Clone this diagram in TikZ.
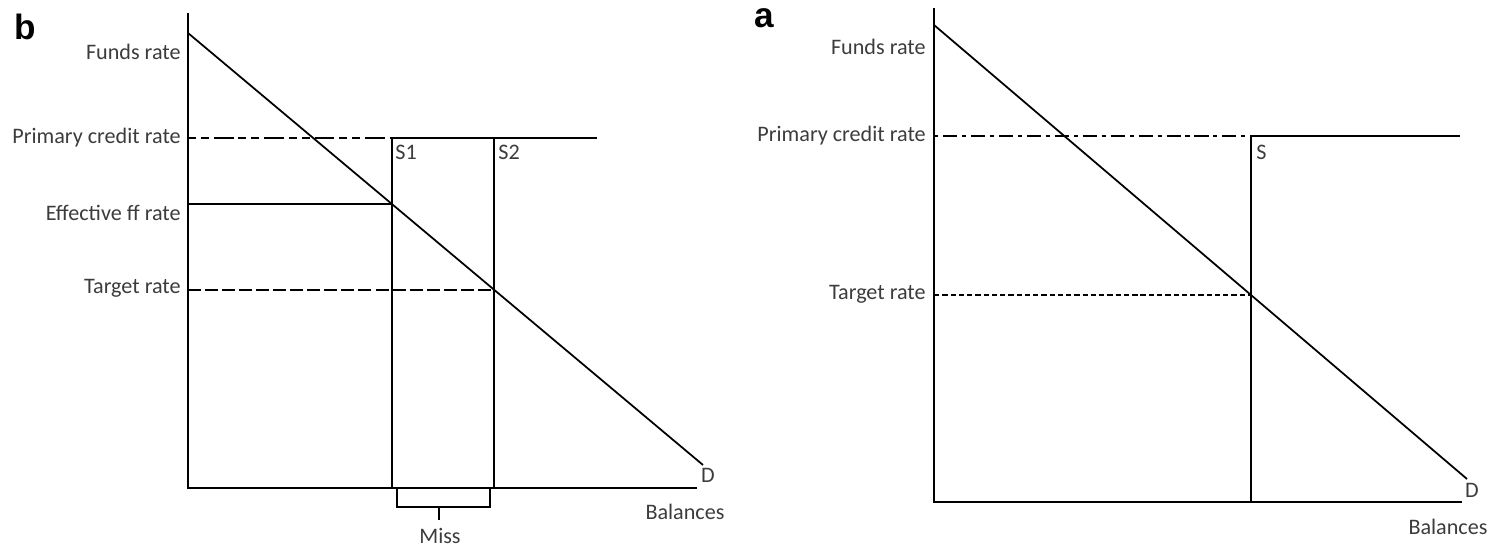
\documentclass[tikz,border=0pt]{standalone}
\usepackage{fontspec}
\setmainfont{Carlito}
\newfontfamily\panelfont{Liberation Sans}
\usepackage{xcolor}
\definecolor{txtgray}{RGB}{60, 60, 60}
\usetikzlibrary{calc}

\tikzset{
    ratelabel/.style={anchor=east, inner sep=0pt, text=txtgray, font=\fontsize{12.6}{15}\selectfont},
    plainlabel/.style={inner sep=0pt, text=txtgray, font=\fontsize{12.6}{15}\selectfont},
    panellabel/.style={inner sep=0pt, font=\panelfont\bfseries\fontsize{20}{24}\selectfont},
    axisline/.style={line width=1.2pt},
    demandline/.style={line width=1pt},
    thinsupply/.style={line width=0.6pt},
    thicksupply/.style={line width=1.2pt},
    dashdotline/.style={line width=0.9pt, dash pattern=on 4.5pt off 2.8pt on 4.5pt off 2.8pt on 11.3pt off 2.8pt},
    longdashline/.style={line width=0.9pt, dash pattern=on 7.4pt off 2.3pt},
    rdashdotline/.style={line width=0.75pt, dash pattern=on 2.3pt off 2.8pt on 8pt off 2.8pt},
    shortdashline/.style={line width=0.75pt, dash pattern=on 3pt off 1.7pt}
}

\begin{document}
\begin{tikzpicture}[x=0.2mm, y=0.2mm]
\useasboundingbox (0,0) rectangle (1491,549);

% === Panel b: supply misses the target ===
\begin{scope}[shift={(188,61)}]
    \node[panellabel] (b-tag) at (-163,461) {b};

    % Ejes
    \coordinate (b-o) at (0,0);
    \coordinate (b-ytop) at (0,475);
    \coordinate (b-xend) at (509,0);
    \draw[axisline] (b-ytop) -- (b-o) -- (b-xend);

    % Demanda
    \coordinate (b-d0) at (0,455);
    \coordinate (b-d1) at (515,23);
    \draw[demandline] (b-d0) -- (b-d1);

    % Tasas
    \coordinate (b-pcr) at (0,350);
    \coordinate (b-s1top) at (204,350);
    \coordinate (b-s2top) at (306,350);
    \coordinate (b-pcrend) at (409,350);
    \coordinate (b-eff) at (0,284);
    \coordinate (b-effhit) at (204,284);
    \coordinate (b-tgt) at (0,198);
    \coordinate (b-tgthit) at (306,198);
    \coordinate (b-s1bot) at (204,0);
    \coordinate (b-s2bot) at (306,0);

    \draw[dashdotline] (b-pcr) -- (b-s1top);
    \draw[thicksupply] (b-s1top) -- (b-pcrend);
    \draw[thinsupply] (b-s1top) -- (b-s1bot);
    \draw[thicksupply] (b-s2top) -- (b-s2bot);
    \draw[demandline] (b-eff) -- (b-effhit);
    \draw[longdashline] (b-tgt) -- (b-tgthit);

    % Miss
    \coordinate (b-missl) at (209,0);
    \coordinate (b-missr) at (302,0);
    \coordinate (b-tick) at (251,-19);
    \coordinate (b-tickend) at (251,-32);
    \draw[thinsupply] (b-missl) -- ++(0,-19) -| (b-missr);
    \draw[thicksupply] (b-tick) -- (b-tickend);

    % Textos
    \node[ratelabel] (b-funds) at (-7,436) {Funds rate};
    \node[ratelabel] (b-pcrlab) at (-7,350) {Primary credit rate};
    \node[ratelabel] (b-efflab) at (-7,275) {Effective ff rate};
    \node[ratelabel] (b-tgtlab) at (-7,200) {Target rate};
    \node[plainlabel, anchor=west] (b-s1lab) at (207,336) {S1};
    \node[plainlabel, anchor=west] (b-s2lab) at (310,336) {S2};
    \node[plainlabel] (b-dlab) at (520,13) {D};
    \node[plainlabel] (b-bal) at (497,-24) {Balances};
    \node[plainlabel] (b-miss) at (252,-48) {Miss};
\end{scope}

% === Panel a: supply hits the target ===
\begin{scope}[shift={(934,47)}]
    \node[panellabel] (a-tag) at (-170,484) {a};

    % Ejes
    \coordinate (a-o) at (0,0);
    \coordinate (a-ytop) at (0,494);
    \coordinate (a-xend) at (528,0);
    \draw[demandline] (a-ytop) -- (a-o) -- (a-xend);

    % Demanda
    \coordinate (a-d0) at (0,477);
    \coordinate (a-d1) at (533,23);
    \draw[demandline] (a-d0) -- (a-d1);

    % Tasas
    \coordinate (a-pcr) at (0,366);
    \coordinate (a-stop) at (317,366);
    \coordinate (a-pcrend) at (526,366);
    \coordinate (a-sbot) at (317,0);
    \coordinate (a-tgt) at (0,207);
    \coordinate (a-tgthit) at (317,207);

    \draw[rdashdotline] (a-pcr) -- (a-stop);
    \draw[demandline] (a-stop) -- (a-pcrend);
    \draw[demandline] (a-stop) -- (a-sbot);
    \draw[shortdashline] (a-tgt) -- (a-tgthit);

    % Textos
    \node[ratelabel] (a-funds) at (-8,455) {Funds rate};
    \node[ratelabel] (a-pcrlab) at (-8,366) {Primary credit rate};
    \node[ratelabel] (a-tgtlab) at (-8,208) {Target rate};
    \node[plainlabel, anchor=west] (a-slab) at (322,350) {S};
    \node[plainlabel] (a-dlab) at (538,12) {D};
    \node[plainlabel] (a-bal) at (514,-25) {Balances};
\end{scope}

\end{tikzpicture}
\end{document}
